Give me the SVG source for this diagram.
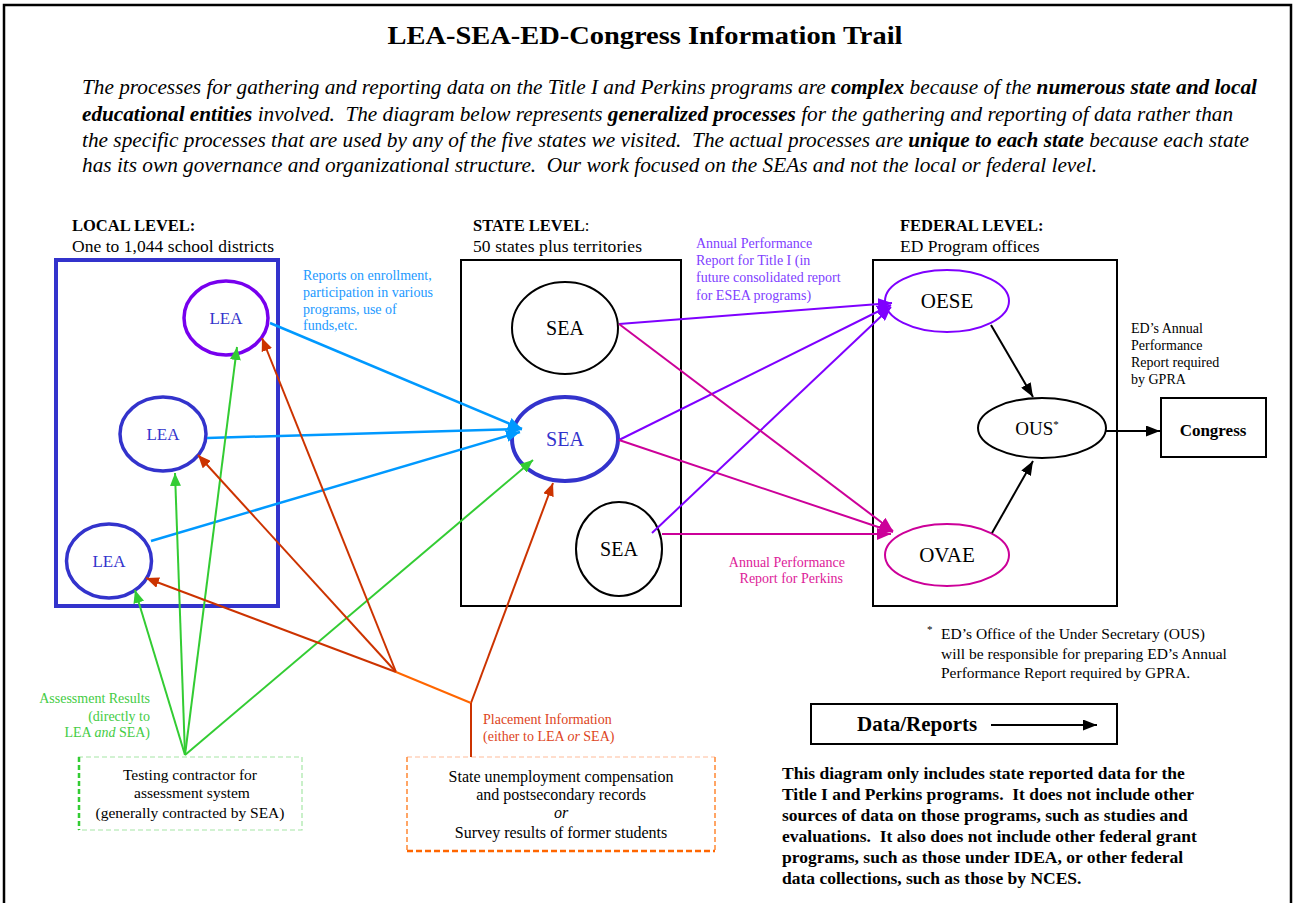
<svg xmlns="http://www.w3.org/2000/svg" width="1298" height="903" viewBox="0 0 1298 903">
<style>
text{font-family:"Liberation Serif","Times New Roman",serif;fill:#000}
.b{font-weight:bold}
.i{font-style:italic}
.pre{white-space:pre}
.lbl{font-size:14px}
.frame{fill:none;stroke:#000;stroke-width:2}
</style>
<defs>
<marker id="mBlue" viewBox="0 0 14 12" refX="14" refY="6" markerWidth="14" markerHeight="12" orient="auto" markerUnits="userSpaceOnUse"><path d="M0,0 L14,6 L0,12 z" fill="#0099ff"/></marker>
<marker id="mPur" viewBox="0 0 14 12" refX="14" refY="6" markerWidth="14" markerHeight="12" orient="auto" markerUnits="userSpaceOnUse"><path d="M0,0 L14,6 L0,12 z" fill="#7f00ff"/></marker>
<marker id="mMag" viewBox="0 0 14 12" refX="14" refY="6" markerWidth="14" markerHeight="12" orient="auto" markerUnits="userSpaceOnUse"><path d="M0,0 L14,6 L0,12 z" fill="#cc0099"/></marker>
<marker id="mGrn" viewBox="0 0 13 11" refX="13" refY="5.5" markerWidth="13" markerHeight="11" orient="auto" markerUnits="userSpaceOnUse"><path d="M0,0 L13,5.5 L0,11 z" fill="#33cc33"/></marker>
<marker id="mRed" viewBox="0 0 13 11" refX="13" refY="5.5" markerWidth="13" markerHeight="11" orient="auto" markerUnits="userSpaceOnUse"><path d="M0,0 L13,5.5 L0,11 z" fill="#cc3300"/></marker>
<marker id="mBlk" viewBox="0 0 14 11" refX="14" refY="5.5" markerWidth="14" markerHeight="11" orient="auto" markerUnits="userSpaceOnUse"><path d="M0,0 L14,5.5 L0,11 z" fill="#000"/></marker>
</defs>
<rect width="1298" height="903" fill="#fff"/>
<rect x="4" y="5" width="1287" height="920" fill="none" stroke="#000" stroke-width="2.5"/>

<g id="header">
<text x="645" y="44" text-anchor="middle" class="b" font-size="26" textLength="515" lengthAdjust="spacingAndGlyphs">LEA-SEA-ED-Congress Information Trail</text>
<g class="i" font-size="21">
<text x="82" y="94" textLength="1175" lengthAdjust="spacingAndGlyphs">The processes for gathering and reporting data on the Title I and Perkins programs are <tspan class="b">complex</tspan> because of the <tspan class="b">numerous state and local</tspan></text>
<text x="82" y="121" class="pre" textLength="1151" lengthAdjust="spacingAndGlyphs"><tspan class="b">educational entities</tspan> involved.  The diagram below represents <tspan class="b">generalized processes</tspan> for the gathering and reporting of data rather than</text>
<text x="82" y="147" class="pre" textLength="1167" lengthAdjust="spacingAndGlyphs">the specific processes that are used by any of the five states we visited.  The actual processes are <tspan class="b">unique to each state</tspan> because each state</text>
<text x="82" y="172" class="pre" textLength="1015" lengthAdjust="spacingAndGlyphs">has its own governance and organizational structure.  Our work focused on the SEAs and not the local or federal level.</text>
</g>
</g>

<g id="local-level">
<text x="72" y="231" class="b" font-size="16.5">LOCAL LEVEL:</text>
<text x="72" y="252" font-size="17.5" textLength="202">One to 1,044 school districts</text>
<rect x="56" y="260" width="222" height="346" fill="none" stroke="#3333cc" stroke-width="4"/>
</g>
<g id="state-level">
<text x="473" y="231" font-size="16.5"><tspan class="b">STATE LEVEL</tspan>:</text>
<text x="473" y="252" font-size="17.5" textLength="169">50 states plus territories</text>
<rect x="461" y="260" width="220" height="346" class="frame"/>
</g>
<g id="federal-level">
<text x="900" y="231" class="b" font-size="16.5">FEDERAL LEVEL:</text>
<text x="900" y="252" font-size="17.5">ED Program offices</text>
<rect x="873" y="260" width="244" height="346" class="frame"/>
</g>

<g id="lea-top"><ellipse cx="226" cy="318" rx="42" ry="37" fill="#fff" stroke="#7700ee" stroke-width="3.5"/><text x="226" y="324" text-anchor="middle" font-size="17" style="fill:#3333cc">LEA</text></g>
<g id="lea-mid"><ellipse cx="163" cy="434" rx="43" ry="37" fill="#fff" stroke="#3333cc" stroke-width="3.5"/><text x="163" y="440" text-anchor="middle" font-size="17" style="fill:#3333cc">LEA</text></g>
<g id="lea-bot"><ellipse cx="109" cy="561" rx="42.5" ry="37" fill="#fff" stroke="#3333cc" stroke-width="3.5"/><text x="109" y="567" text-anchor="middle" font-size="17" style="fill:#3333cc">LEA</text></g>

<g id="sea-top"><ellipse cx="565" cy="328" rx="53" ry="46" fill="#fff" stroke="#000" stroke-width="2"/><text x="565" y="335" text-anchor="middle" font-size="20">SEA</text></g>
<g id="sea-mid"><ellipse cx="565" cy="439" rx="53" ry="42" fill="#fff" stroke="#3333cc" stroke-width="4"/><text x="565" y="446" text-anchor="middle" font-size="20" style="fill:#3333cc">SEA</text></g>
<g id="sea-bot"><ellipse cx="619" cy="549" rx="43" ry="47" fill="#fff" stroke="#000" stroke-width="2"/><text x="619" y="556" text-anchor="middle" font-size="20">SEA</text></g>

<g id="oese"><ellipse cx="947" cy="301" rx="62" ry="31" fill="#fff" stroke="#7f00ff" stroke-width="2"/><text x="947" y="308" text-anchor="middle" font-size="21">OESE</text></g>
<g id="ovae"><ellipse cx="947" cy="555" rx="62" ry="31" fill="#fff" stroke="#cc0099" stroke-width="2"/><text x="947" y="562" text-anchor="middle" font-size="21">OVAE</text></g>
<g id="ous"><ellipse cx="1042" cy="428" rx="64" ry="30" fill="#fff" stroke="#000" stroke-width="2"/><text x="1037" y="435" text-anchor="middle" font-size="19">OUS<tspan font-size="11" dy="-7">*</tspan></text></g>
<g id="congress"><rect x="1161" y="398" width="105" height="59" fill="#fff" stroke="#000" stroke-width="2"/><text x="1213" y="436" text-anchor="middle" class="b" font-size="17">Congress</text></g>

<g id="testing-contractor">
<path d="M78,757 H302 V830 H78" fill="none" stroke="#a6e6a6" stroke-width="1.2" stroke-dasharray="5,3"/>
<line x1="79" y1="757" x2="79" y2="830" stroke="#33cc33" stroke-width="2.5" stroke-dasharray="5,3"/>
<text x="190" y="780" text-anchor="middle" font-size="15.5">Testing contractor for</text>
<text x="192" y="798" text-anchor="middle" font-size="15.5">assessment system</text>
<text x="190" y="818" text-anchor="middle" font-size="15.5">(generally contracted by SEA)</text>
</g>
<g id="placement-source">
<line x1="407" y1="757" x2="715" y2="757" stroke="#ffbb99" stroke-width="1.2" stroke-dasharray="5,3"/>
<path d="M407,757 V851 M715,757 V851" fill="none" stroke="#ff8833" stroke-width="1.5" stroke-dasharray="5,3"/>
<line x1="407" y1="851" x2="715" y2="851" stroke="#ff6600" stroke-width="2.5" stroke-dasharray="6,3"/>
<text x="561" y="782" text-anchor="middle" font-size="16">State unemployment compensation</text>
<text x="561" y="800" text-anchor="middle" font-size="16">and postsecondary records</text>
<text x="561" y="818" text-anchor="middle" font-size="16" class="i">or</text>
<text x="561" y="838" text-anchor="middle" font-size="16">Survey results of former students</text>
</g>

<g id="connectors">
<g stroke="#0099ff" stroke-width="2.5" fill="none" marker-end="url(#mBlue)">
<line x1="270" y1="323" x2="522" y2="429"/>
<line x1="207" y1="438" x2="522" y2="429"/>
<line x1="151" y1="541" x2="520" y2="432"/>
</g>
<g stroke="#7f00ff" stroke-width="2" fill="none" marker-end="url(#mPur)">
<line x1="619" y1="324" x2="892" y2="303"/>
<line x1="619" y1="440" x2="891" y2="305"/>
<line x1="652" y1="533" x2="891" y2="307"/>
</g>
<g stroke="#cc0099" stroke-width="2" fill="none" marker-end="url(#mMag)">
<line x1="619" y1="324" x2="893" y2="531"/>
<line x1="619" y1="440" x2="893" y2="532"/>
<line x1="662" y1="534" x2="891" y2="534"/>
</g>
<g stroke="#33cc33" stroke-width="2" fill="none" marker-end="url(#mGrn)">
<line x1="185" y1="755" x2="237" y2="347"/>
<line x1="185" y1="755" x2="175" y2="473"/>
<line x1="185" y1="755" x2="135" y2="590"/>
<line x1="185" y1="755" x2="533" y2="460"/>
</g>
<g stroke="#cc3300" stroke-width="2" fill="none" marker-end="url(#mRed)">
<line x1="396" y1="672" x2="262" y2="338"/>
<line x1="396" y1="672" x2="198" y2="455"/>
<line x1="396" y1="672" x2="146" y2="578"/>
<line x1="471" y1="703" x2="553" y2="483"/>
</g>
<line x1="396" y1="672" x2="471" y2="703" stroke="#ff6600" stroke-width="2"/>
<line x1="471" y1="703" x2="471" y2="757" stroke="#cc3300" stroke-width="2"/>
<g stroke="#000" stroke-width="2" fill="none" marker-end="url(#mBlk)">
<line x1="991" y1="325" x2="1033" y2="397"/>
<line x1="992" y1="533" x2="1033" y2="461"/>
<line x1="1106" y1="431" x2="1160" y2="431"/>
</g>
</g>

<g id="labels">
<g class="lbl">
<text x="303" y="280" style="fill:#2299ff">Reports on enrollment,</text>
<text x="303" y="297" style="fill:#2299ff">participation in various</text>
<text x="303" y="314" style="fill:#2299ff">programs, use of</text>
<text x="303" y="330" style="fill:#2299ff">funds,etc.</text>
</g>
<g class="lbl">
<text x="696" y="248" style="fill:#8040ff">Annual Performance</text>
<text x="696" y="265" style="fill:#8040ff">Report for Title I (in</text>
<text x="696" y="282" style="fill:#8040ff">future consolidated report</text>
<text x="696" y="300" style="fill:#8040ff">for ESEA programs)</text>
</g>
<g class="lbl" text-anchor="end">
<text x="845" y="567" style="fill:#dd2299">Annual Performance</text>
<text x="843" y="583" style="fill:#dd2299">Report for Perkins</text>
</g>
<g class="lbl" text-anchor="end">
<text x="150" y="703" style="fill:#44cc44">Assessment Results</text>
<text x="150" y="721" style="fill:#44cc44">(directly to</text>
<text x="150" y="737" style="fill:#44cc44">LEA <tspan class="i">and</tspan> SEA)</text>
</g>
<g class="lbl">
<text x="483" y="724" style="fill:#dd4422">Placement Information</text>
<text x="483" y="741" style="fill:#dd4422">(either to LEA <tspan class="i">or</tspan> SEA)</text>
</g>
<g font-size="14">
<text x="1131" y="333">ED’s Annual</text>
<text x="1131" y="350">Performance</text>
<text x="1131" y="367">Report required</text>
<text x="1131" y="384">by GPRA</text>
</g>
</g>

<g id="footnote" font-size="15.5">
<text x="927" y="633" font-size="11">*</text>
<text x="941" y="639">ED’s Office of the Under Secretary (OUS)</text>
<text x="941" y="659">will be responsible for preparing ED’s Annual</text>
<text x="941" y="678">Performance Report required by GPRA.</text>
</g>

<g id="legend">
<rect x="811" y="704" width="306" height="40" fill="#fff" stroke="#000" stroke-width="2"/>
<text x="857" y="731" class="b" font-size="21">Data/Reports</text>
<line x1="991" y1="725" x2="1097" y2="725" stroke="#000" stroke-width="2" marker-end="url(#mBlk)"/>
</g>

<g id="note" class="b" font-size="17.5">
<text x="782" y="779">This diagram only includes state reported data for the</text>
<text x="782" y="800" class="pre">Title I and Perkins programs.  It does not include other</text>
<text x="782" y="821">sources of data on those programs, such as studies and</text>
<text x="782" y="842" class="pre">evaluations.  It also does not include other federal grant</text>
<text x="782" y="863">programs, such as those under IDEA, or other federal</text>
<text x="782" y="884">data collections, such as those by NCES.</text>
</g>
</svg>
